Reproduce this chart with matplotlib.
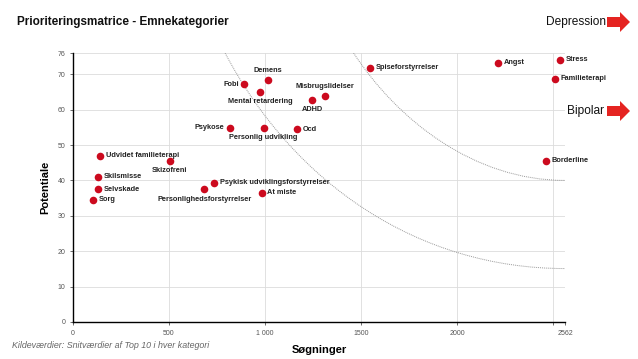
import matplotlib
matplotlib.use("Agg")
import matplotlib.pyplot as plt
from matplotlib.patches import Polygon, PathPatch
from matplotlib.path import Path

plt.rcParams['font.family'] = ['Liberation Sans', 'DejaVu Sans']

# ---- data ----
categories = ["Stress", "Angst", "Familieterapi", "Spiseforstyrrelser", "Demens", "Fobi",
              "Mental retardering", "Misbrugslidelser", "ADHD", "Psykose",
              "Personlig udvikling", "Ocd", "Udvidet familieterapi", "Skizofreni",
              "Borderline", "Skilsmisse", "Psykisk udviklingsforstyrrelser",
              "Selvskade", "Personlighedsforstyrrelser", "At miste", "Sorg"]
searches = [2535, 2212, 2509, 1546, 1013, 893, 975, 1314, 1247, 815,
            992, 1168, 141, 504, 2462, 132, 735, 130, 684, 982, 106]
potential = [74.1, 73.2, 68.7, 71.9, 68.3, 67.2, 65.1, 63.8, 62.7, 54.9,
             54.9, 54.5, 47.0, 45.6, 45.6, 41.1, 39.3, 37.5, 37.5, 36.5, 34.5]
label_pos = ["right", "right", "right", "right", "above", "left",
             "below", "above", "below", "left",
             "below", "right", "right", "below",
             "right", "right", "right", "right", "below", "right", "right"]

x_ticks = [0, 500, 1000, 1500, 2000, 2500, 2562]
x_ticklabels = ["0", "500", "1 000", "1500", "2000", "", "2562"]
y_ticks = [0, 10, 20, 30, 40, 50, 60, 70, 76]
y_ticklabels = ["0", "10", "20", "30", "40", "50", "60", "70", "76"]

# guide curves: cubic Bezier control points (x, y)
curve_low = [(792, 76), (1150, 39), (1800, 15.1), (2562, 15.1)]
curve_high = [(1461, 76), (1690, 57), (2088, 40), (2562, 40)]

W, H = 638, 359
fig = plt.figure(figsize=(W / 100, H / 100), dpi=100)

def fx(px):
    return px / W

def fy(py):
    return 1 - py / H

left, right, top, bottom = 73, 565, 53, 322
ax = fig.add_axes([fx(left), fy(bottom), fx(right) - fx(left), fy(top) - fy(bottom)])
ax.set_xlim(0, 2562)
ax.set_ylim(0, 76)

ax.set_xticks(x_ticks)
ax.set_xticklabels(x_ticklabels)
ax.set_yticks(y_ticks)
ax.set_yticklabels(y_ticklabels)
ax.tick_params(axis='both', labelsize=5, colors='#555555', length=2.5, width=0.6, pad=3)
ax.grid(True, color='#dcdcdc', linewidth=0.6)
ax.set_axisbelow(True)
for s in ['top', 'right']:
    ax.spines[s].set_visible(False)
for s in ['left', 'bottom']:
    ax.spines[s].set_color('black')
    ax.spines[s].set_linewidth(1.0)

for cp in (curve_low, curve_high):
    path = Path(cp, [Path.MOVETO, Path.CURVE4, Path.CURVE4, Path.CURVE4])
    ax.add_patch(PathPatch(path, facecolor='none', edgecolor='#999999',
                           linewidth=0.7, linestyle=(0, (1, 1)), zorder=2))

ax.scatter(searches, potential, s=30, color='#cc0a1e', zorder=3, linewidths=0)

for name, xv, yv, pos in zip(categories, searches, potential, label_pos):
    kw = dict(fontsize=5.3, fontweight='bold', color='#222222', zorder=4)
    if pos == 'right':
        ax.annotate(name, (xv, yv), xytext=(4, 0), textcoords='offset points',
                    ha='left', va='center', **kw)
    elif pos == 'left':
        ax.annotate(name, (xv, yv), xytext=(-4, 0), textcoords='offset points',
                    ha='right', va='center', **kw)
    elif pos == 'above':
        ax.annotate(name, (xv, yv), xytext=(0, 4.5), textcoords='offset points',
                    ha='center', va='bottom', **kw)
    else:
        ax.annotate(name, (xv, yv), xytext=(0, -4.5), textcoords='offset points',
                    ha='center', va='top', **kw)

ax.set_xlabel("Søgninger", fontsize=8, fontweight='bold', labelpad=6)
ax.set_ylabel("Potentiale", fontsize=8, fontweight='bold', labelpad=5)

fig.text(fx(17), fy(22), "Prioriteringsmatrice - Emnekategorier", fontsize=8.5,
         fontweight='bold', ha='left', va='center', color='#111111')
fig.text(fx(606), fy(22), "Depression", fontsize=8.6, ha='right', va='center', color='#111111')
fig.text(fx(604), fy(111), "Bipolar", fontsize=8.6, ha='right', va='center', color='#111111')
fig.text(fx(12), fy(345), "Kildeværdier: Snitværdier af Top 10 i hver kategori",
         fontsize=6.4, style='italic', ha='left', va='center', color='#666666')

def arrow(x0, yc):
    pts = [(x0, yc - 5), (x0 + 13, yc - 5), (x0 + 13, yc - 10), (x0 + 23, yc),
           (x0 + 13, yc + 10), (x0 + 13, yc + 5), (x0, yc + 5)]
    fig.patches.append(Polygon([(fx(a), fy(b)) for a, b in pts], closed=True,
                               transform=fig.transFigure, facecolor='#e52421',
                               edgecolor='none'))

arrow(607, 22)
arrow(607, 111)

fig.savefig("out.png", dpi=100)
